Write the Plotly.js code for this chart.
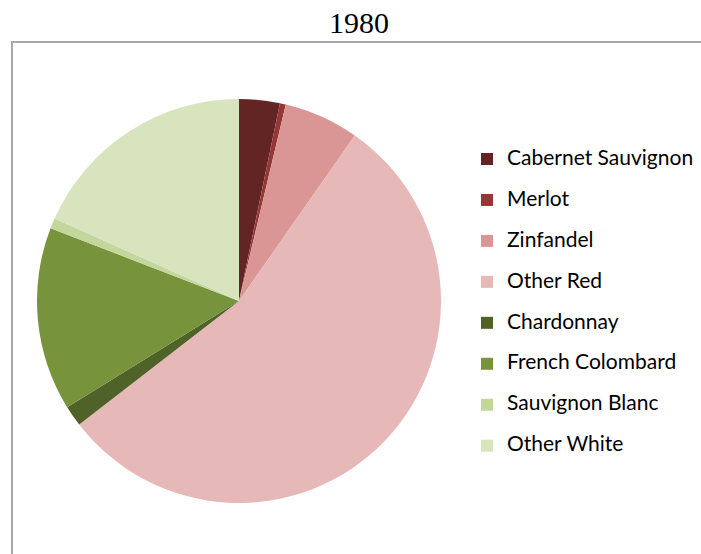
<!DOCTYPE html>
<html>
<head>
<meta charset="utf-8">
<script src="https://cdn.plot.ly/plotly-3.0.1.min.js"></script>
<style>html,body{margin:0;padding:0;background:#fff;}#chart{width:701px;height:554px;}</style>
</head>
<body>
<div id="chart"></div>
<script>
var chartTitle = "1980";
var categories = ["Cabernet Sauvignon", "Merlot", "Zinfandel", "Other Red", "Chardonnay", "French Colombard", "Sauvignon Blanc", "Other White"];
var shares = [3.25, 0.47, 6.0, 54.8, 1.67, 14.67, 0.83, 18.31];
var colors = ["#632523", "#953735", "#d99694", "#e6b9b8", "#4f6228", "#77933c", "#c3d69b", "#d7e4bd"];

var W = 701, H = 554;
var legendLabels = categories.map(function (c) {
  return "<span style='font-size:21px'>" + c + "</span><br> ";
});

var trace = {
  type: "pie",
  labels: legendLabels,
  values: shares,
  sort: false,
  direction: "clockwise",
  rotation: 0,
  textinfo: "none",
  hoverinfo: "none",
  marker: { colors: colors, line: { width: 0 } },
  domain: { x: [37 / W, 441 / W], y: [1 - 503 / H, 1 - 99 / H] },
  automargin: false
};

var layout = {
  width: W,
  height: H,
  margin: { l: 0, r: 0, t: 0, b: 0 },
  paper_bgcolor: "#ffffff",
  title: {
    text: chartTitle,
    font: { family: "Liberation Serif, Times New Roman, serif", size: 30, color: "#000000" },
    x: 359 / W, xanchor: "center", xref: "paper",
    y: 1 - 22 / H, yanchor: "middle", yref: "container"
  },
  showlegend: true,
  legend: {
    x: 467 / W, xanchor: "left",
    y: 1 - 143 / H, yanchor: "top",
    font: { family: "Lato, Carlito, Calibri, sans-serif", size: 14.6, color: "#000000" },
    valign: "top",
    itemwidth: 30,
    bgcolor: "rgba(0,0,0,0)"
  },
  shapes: [{
    type: "rect", xref: "paper", yref: "paper",
    x0: 12 / W, x1: 1.05, y0: -0.05, y1: 1 - 42 / H,
    line: { color: "#a9a9a9", width: 2 },
    fillcolor: "rgba(0,0,0,0)",
    layer: "below"
  }]
};

Plotly.newPlot("chart", [trace], layout, { displayModeBar: false, staticPlot: true });
</script>
</body>
</html>
